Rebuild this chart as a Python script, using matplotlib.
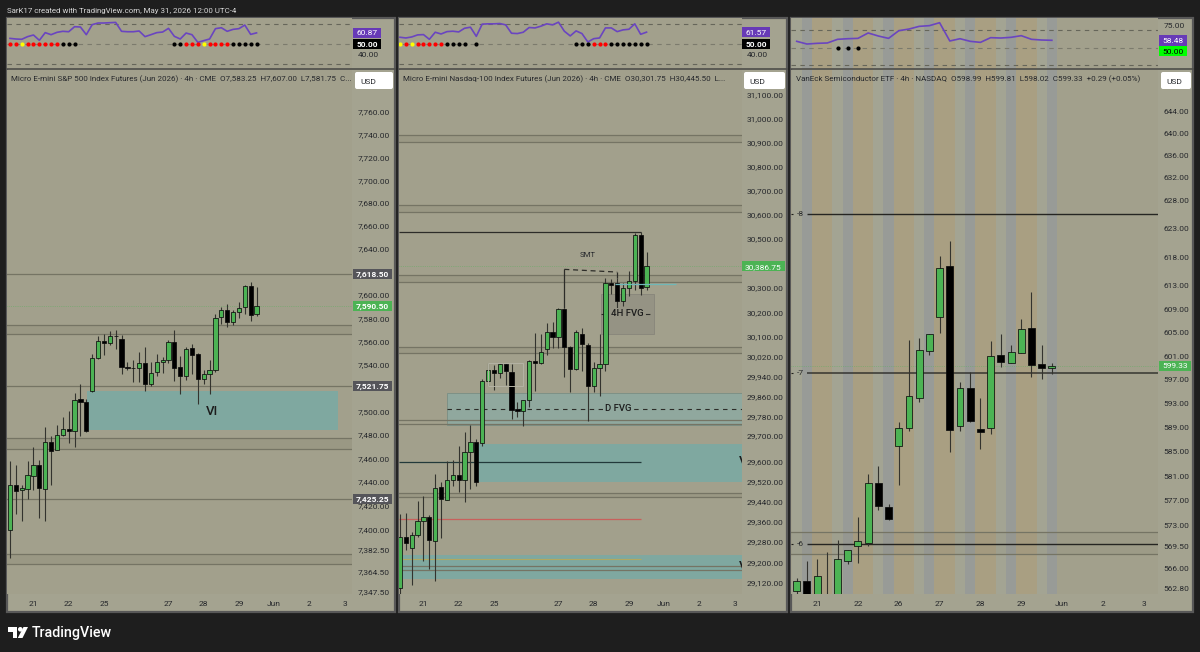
import matplotlib
matplotlib.use("Agg")
from matplotlib import pyplot as plt
from matplotlib.patches import Rectangle, FancyBboxPatch, Polygon, Circle

plt.rcParams['font.family'] = ['Roboto', 'DejaVu Sans']

# S&P micro futures, 4h
es_open = [7399, 7437, 7433, 7434, 7444.7, 7454.4, 7434, 7473.7, 7466.9, 7479.7, 7485.1, 7482.9, 7510.2, 7508, 7517.6,
           7546.1, 7560.4, 7558.9, 7564.9, 7562.4, 7538.4, 7536.7, 7537.3, 7541.3, 7523.3, 7533.3, 7542.4, 7543.6, 7559.8,
           7537.9, 7530.2, 7554.1, 7549.3, 7527.6, 7531.6, 7535.3, 7580.6, 7586.9, 7576.9, 7585.5, 7589.7, 7607.7, 7583.25]
es_high = [7458, 7454, 7437, 7457.5, 7469.5, 7458.6, 7486.3, 7478.6, 7488.6, 7494.8, 7500.2, 7515.6, 7523.6, 7510.8, 7549.3,
           7564.6, 7566.4, 7568.9, 7569.5, 7565.2, 7542.4, 7544.1, 7551, 7555, 7542.1, 7549, 7546.4, 7561.2, 7569.8,
           7547, 7555, 7557.5, 7550.1, 7535, 7544.1, 7583.2, 7589.7, 7592.3, 7586.9, 7594.3, 7609.1, 7611.1, 7607]
es_low = [7376, 7413, 7407, 7425.5, 7433, 7409.6, 7407.3, 7437.3, 7466.9, 7478.6, 7472.9, 7469.2, 7478.6, 7482.3, 7516.5,
          7545, 7548.1, 7557.2, 7553.8, 7531.6, 7535, 7525.3, 7524.8, 7517, 7521.3, 7529.9, 7532.7, 7541.3, 7525.6,
          7515.1, 7526.5, 7532.2, 7506, 7523.1, 7515.1, 7533.3, 7574.9, 7572.4, 7573.8, 7580, 7583.5, 7577.2, 7581.75]
es_close = [7437, 7432.4, 7434.4, 7445.5, 7454.4, 7434.7, 7473.7, 7466.6, 7480, 7484.9, 7483.4, 7509.6, 7507.7, 7483.4, 7545.6,
            7560.1, 7558.9, 7564.6, 7564.4, 7538.4, 7536.7, 7537.3, 7541.3, 7523.3, 7532.5, 7541.9, 7543.6, 7559.8, 7537.3,
            7529.9, 7553.5, 7548.4, 7527.3, 7531.6, 7535, 7580.3, 7586.9, 7576.3, 7585.5, 7589.2, 7608, 7582.6, 7590.5]
es_rsi = [55.5, 54.9, 54.6, 57.2, 58.8, 53.6, 61.1, 59.1, 61.4, 62.4, 62, 66.9, 66.6, 59.1, 68.9, 70.5, 70.5, 70.8, 71.1, 62.4,
          62, 62, 62.7, 57.2, 59.1, 61.1, 61.7, 65.3, 57.5, 54.9, 60.7, 59.1, 51.6, 53.3, 54.9, 65, 65.9, 62.4, 64.3, 65,
          68.5, 59.4, 60.87]
es_dots = list("rryrrrrrrkkk") + [""] * 16 + list("kkrrryrrrrkkkkk")
es_ticks = [7760, 7740, 7720, 7700, 7680, 7660, 7640, 7600, 7580, 7560, 7540, 7500, 7480, 7460, 7440, 7420,
            7400, 7382.5, 7364.5, 7347.5]
es_levels = [7618.5, 7574, 7566, 7521.75, 7477, 7468, 7425.25, 7379, 7371]
es_bands = [(7566, 7574), (7468, 7477), (7371, 7379)]

# Nasdaq micro futures, 4h
nq_open = [29097.5, 29300, 29257.5, 29309, 29363, 29379, 29284, 29495.4, 29446.5, 29526, 29544, 29524.5, 29637, 29675, 29672,
           29922, 29966, 29953, 29990, 29959, 29810, 29802, 29843.6, 30003.5, 29995, 30051, 30120, 30101, 30213.5,
           30057.7, 29971, 30110.6, 30068.6, 29903, 29973.7, 29990, 30318, 30320.6, 30246, 30300, 30328.7, 30515.7, 30301.75]
nq_high = [29392, 29395, 29319.6, 29440, 29462, 29388, 29549.7, 29519, 29600, 29604, 29662, 29716, 29745, 29688.5, 29928,
           29993, 29984.6, 29995, 29995, 29989, 29835.5, 29846, 30006, 30117, 30110.6, 30158, 30160.7, 30219, 30219,
           30063, 30128, 30137.7, 30076.7, 29998, 30112, 30339.6, 30337, 30341, 30318, 30366.7, 30524, 30529, 30445.5]
nq_low = [29075, 29247, 29109.4, 29300, 29203, 29171.6, 29125, 29296, 29444, 29503, 29477, 29437, 29490, 29503, 29660,
          29903, 29887, 29934, 29906, 29768, 29778.6, 29740.6, 29816.5, 29880, 29988.6, 30025, 30056, 30056, 29937,
          29876, 29964, 29961.5, 29762, 29877.5, 29862.6, 29961.5, 30273, 30216, 30225.7, 30266, 30290.8, 30269, 30290.8]
nq_close = [29299.8, 29274.7, 29309, 29363, 29379, 29286.6, 29493, 29450.5, 29526, 29544, 29524.5, 29637, 29675, 29516.6, 29921,
            29966, 29953, 29990, 29960, 29806, 29802, 29843.6, 30002, 29995, 30039, 30120, 30101, 30213.5, 30060.4,
            29971, 30121.4, 30070, 29903, 29973.7, 29990, 30318, 30311, 30246, 30297.6, 30328.7, 30515.7, 30300, 30386.75]
nq_rsi = [56.6, 55.9, 56.9, 58.9, 59.2, 54.6, 61.5, 59.8, 62.1, 62.5, 61.8, 65.4, 66.4, 57.5, 69.4, 69.7, 69.7, 70, 68.7, 60.5,
          60.2, 61.5, 66.1, 65.7, 67.4, 69.7, 68.7, 71.3, 62.5, 57.9, 62.8, 60.2, 52, 55.2, 55.9, 65.7, 65.7, 62.1, 63.8,
          64.4, 69.7, 59.5, 61.57]
nq_dots = list("yryrrrrrkkkk") + [""] + ["k"] + [""] * 16 + list("kkkrrrkkkkkkk")
nq_ticks = [31100, 31000, 30900, 30800, 30700, 30600, 30500, 30400, 30300, 30200, 30100, 30020, 29940, 29860, 29780, 29700,
            29600, 29520, 29440, 29360, 29280, 29200, 29120]
nq_levels = [30930, 30901, 30640, 30609, 30350, 30325, 30059, 30036, 29765, 29749, 29473, 29456, 29183, 29168]
nq_bands = [(30901, 30930), (30609, 30640), (30325, 30350), (30036, 30059), (29456, 29473)]

# SMH, 4h
smh_open = [562.5, 564, 560, 561, 561.7, 567.3, 569.7, 570.2, 579.8, 575.9, 586, 588.9, 594, 601.8, 607.7, 616.4, 589.2, 595.6,
            588.7, 588.9, 601.2, 599.8, 601.5, 605.7, 599.7, 598.99]
smh_high = [564.5, 567.2, 567.5, 568.7, 570.6, 569, 574.4, 581.4, 582.6, 576.5, 590, 603.8, 604, 604.8, 618.2, 620.8, 596.6, 598.3,
            594, 603.5, 604.8, 602.9, 607.4, 611.9, 602.8, 599.81]
smh_low = [562, 560, 559, 557, 561, 566.7, 566.9, 569.7, 575.4, 573.8, 579.6, 588.5, 593.2, 601.2, 605, 585, 588.5, 589.9,
           585.5, 587.9, 599.1, 599.8, 601.5, 597.4, 597.2, 598.02]
smh_close = [564, 561, 564.8, 558, 567.5, 569, 570.5, 579.8, 576.2, 574, 589, 594.2, 602, 604.7, 616.2, 588.6, 595.6, 590.1,
             588.3, 601, 600, 601.7, 605.6, 599.5, 599, 599.33]
smh_rsi = [57.3, 54.2, 55, 55.4, 59.6, 60.3, 60.7, 66.9, 63.4, 60.7, 69.5, 71.4, 74.5, 75.3, 78.7, 57.7, 60.3, 57.3, 56.1, 61.5,
           61.1, 61.9, 63.8, 59.6, 58.8, 58.48]
smh_dots = [""] * 4 + list("kkk") + [""] * 19
smh_sessions = list("lgtt" * 6) + list("lg")
smh_ticks = [644, 640, 636, 632, 628, 623, 618, 613, 609, 605, 601, 597, 593, 589, 585, 581, 577, 573, 569.5, 566, 562.8]
smh_levels = [571.9, 568.4]
smh_fib = [(625.6, "-8"), (598.1, "-7"), (570, "-6")]

day_labels = ["21", "22", "25", "27", "28", "29", "Jun", "2", "3"]
day_ticks_fut = [3.9, 10, 16, 27, 33, 39, 45, 51, 57]
smh_day_labels = ["21", "22", "26", "27", "28", "29", "Jun", "2", "3"]
day_ticks_smh = [2, 6, 10, 14, 18, 22, 26, 30, 34]

es_title = "Micro E-mini S&P 500 Index Futures (Jun 2026) · 4h · CME  O7,583.25  H7,607.00  L7,581.75  C..."
nq_title = "Micro E-mini Nasdaq-100 Index Futures (Jun 2026) · 4h · CME  O30,301.75  H30,445.50  L..."
smh_title = "VanEck Semiconductor ETF · 4h · NASDAQ  O598.99  H599.81  L598.02  C599.33  +0.29 (+0.05%)"

W, H = 1200, 652
BG = "#1e1e1e"
PANE = "#a2a08c"
SCALE = "#a4a390"
GREEN = "#4cb354"
TEAL = "#7fa8a0"
TXT = "#26282c"
LINE = "#75746450"[:7]
FS = 6.0

fig = plt.figure(figsize=(W / 100, H / 100), dpi=100, facecolor=BG)


def px_axes(x0, y0, x1, y1, **kw):
    # axes from pixel box, y counted from the top
    return fig.add_axes([x0 / W, 1 - y1 / H, (x1 - x0) / W, (y1 - y0) / H], **kw)


under = px_axes(0, 0, W, H, zorder=-1)
under.set_xlim(0, W)
under.set_ylim(H, 0)
under.axis("off")
over = px_axes(0, 0, W, H, zorder=5)
over.set_xlim(0, W)
over.set_ylim(H, 0)
over.axis("off")
over.patch.set_alpha(0)


def draw_candles(ax, o, h, l, c, width):
    for i in range(len(o)):
        up = c[i] >= o[i]
        ax.vlines(i, l[i], h[i], color="#33332e", lw=0.8, zorder=3)
        ax.bar(i, abs(c[i] - o[i]), bottom=min(o[i], c[i]), width=width, color=GREEN if up else "black",
               edgecolor="#0c0c0c", lw=0.55, zorder=4)


def setup_main(ax, ticks, ylim, xlim, xticks, xlabels, fmt="{:,.2f}"):
    ax.set_yscale("log")
    ax.set_xlim(*xlim)
    ax.set_ylim(*ylim)
    ax.yaxis.tick_right()
    ax.set_yticks(ticks)
    ax.set_yticklabels([fmt.format(t) for t in ticks], fontsize=FS, color=TXT)
    ax.minorticks_off()
    ax.set_xticks(xticks)
    ax.set_xticklabels(xlabels, fontsize=FS, color=TXT)
    ax.tick_params(length=0, axis="y", pad=4)
    ax.tick_params(length=0, axis="x", pad=5)
    ax.set_facecolor(PANE)
    for s in ax.spines.values():
        s.set_visible(False)


def setup_sub(ax, rsi, dots, xlim, ylim, ticks):
    ax.set_xlim(*xlim)
    ax.set_ylim(*ylim)
    ax.set_facecolor(PANE)
    ax.yaxis.tick_right()
    ax.set_yticks(ticks)
    ax.set_yticklabels(["{:.2f}".format(t) for t in ticks], fontsize=FS, color=TXT)
    ax.set_xticks([])
    ax.tick_params(length=0, axis="y", pad=4)
    for s in ax.spines.values():
        s.set_visible(False)
    ax.axhline(70, color="#66665a", lw=0.8, dashes=(4, 4), zorder=2)
    ax.axhline(50, color="#7c7b6d", lw=0.8, dashes=(4, 4), zorder=2)
    ax.axhline(30, color="#66665a", lw=0.8, dashes=(4, 4), zorder=2)
    ax.plot(range(len(rsi)), rsi, color="#6a45c0", lw=1.2, zorder=3)
    cols = {"r": "#ff0000", "y": "#ffff00", "k": "black"}
    for i, d in enumerate(dots):
        if d:
            ax.scatter(i, 50, s=9, color=cols[d], zorder=4, linewidths=0)


def tag(ax, x0, w, v, text, bg, fg="white", h=10, bold=False):
    # price tag on the scale, sits at the pixel height of the value
    y = H - ax.transData.transform((0, v))[1]
    over.add_patch(Rectangle((x0, y - h / 2), w, h, facecolor=bg, edgecolor="none", zorder=3))
    over.text(x0 + w / 2, y, text, color=fg, fontsize=FS, ha="center", va="center_baseline", zorder=4,
              fontweight="bold" if bold else "normal")


def usd(x0, x1):
    over.add_patch(FancyBboxPatch((x0 + 1, 73), x1 - x0 - 2, 15, boxstyle="round,pad=1,rounding_size=2",
                                  facecolor="white", edgecolor="none", zorder=3))
    over.text(x0 + 13, 81, "USD", fontsize=FS, color=TXT, ha="center", va="center_baseline", zorder=4)


# panel frames and the lighter price scale strips
for x0, x1, sx in [(7, 395, 352), (398.5, 787, 741.5), (791, 1193, 1158)]:
    under.add_patch(Rectangle((x0, 18), x1 - x0, 594, facecolor=SCALE, edgecolor="#585858", lw=1.6))
    over.plot([x0, x1], [69, 69], color="#4e4e4a", lw=1.2, zorder=2)

fig.text(7 / W, 1 - 10.5 / H, "SarK17 created with TradingView.com, May 31, 2026 12:00 UTC-4", color="#d8d8d8", fontsize=5.65,
         va="center")

# --- S&P ---
xl1 = (-0.51, 58.26)
ax1s = px_axes(7, 18, 352, 69)
setup_sub(ax1s, es_rsi, es_dots, xl1, (25.6, 75.4), [40])
ax1 = px_axes(7, 70, 352, 594)
setup_main(ax1, es_ticks, (7345.6, 7797.3), xl1, day_ticks_fut, day_labels)
for a, b in es_bands:
    ax1.axhspan(a, b, color="#9a9884", lw=0, zorder=1)
for v in es_levels:
    ax1.axhline(v, color=LINE, lw=0.9, zorder=1.5)
ax1.add_patch(Rectangle((13.2, 7484), 42.7, 33.6, facecolor=TEAL, edgecolor="none", zorder=2))
ax1.text(34.4, 7500, "VI", fontsize=9.5, color="#1c1c1c", ha="center", va="center", zorder=5, fontweight="medium")
ax1.axhline(7590.5, color=GREEN, lw=0.5, ls=":", alpha=0.7, zorder=2)
draw_candles(ax1, es_open, es_high, es_low, es_close, 0.72)
ax1.text(0.012, 0.9825, es_title, transform=ax1.transAxes, fontsize=5.75, color=TXT, va="center", zorder=6)

# --- Nasdaq ---
xl2 = (-0.17, 58.18)
ax2s = px_axes(399, 18, 741.5, 69)
setup_sub(ax2s, nq_rsi, nq_dots, xl2, (25.6, 75.4), [40])
ax2 = px_axes(399, 70, 741.5, 594)
setup_main(ax2, nq_ticks, (29075, 31202), xl2, day_ticks_fut, day_labels)
for a, b in nq_bands:
    ax2.axhspan(a, b, color="#9a9884", lw=0, zorder=1)
for v in nq_levels:
    ax2.axhline(v, color=LINE, lw=0.9, zorder=2.5)
ax2.add_patch(Rectangle((8, 29743), 51, 130, facecolor="#90a89e", edgecolor="#7a8e84", lw=0.6, zorder=2))
ax2.add_patch(Rectangle((13.35, 29518), 46, 152, facecolor=TEAL, edgecolor="none", zorder=2))
ax2.add_patch(Rectangle((-1, 29133), 60, 94, facecolor=TEAL, edgecolor="none", zorder=2))
ax2.add_patch(Rectangle((34.2, 30113), 9, 160, facecolor="#959384", edgecolor="#87857a", lw=0.6, zorder=2))
ax2.add_patch(Rectangle((15, 29900), 6, 94, facecolor="none", edgecolor="#b4b3a4", lw=0.7, zorder=5))
ax2.hlines(29810, 8, 58.18, color="#2c2c28", lw=0.8, linestyles=(0, (4, 4)), zorder=2.8)
ax2.hlines(30194.6, 34.2, 43.2, color="#2c2c28", lw=0.8, linestyles=(0, (4, 4)), zorder=2.8)
ax2.hlines(30529.5, -0.17, 41, color="#2c2c28", lw=0.9, zorder=2.8)
ax2.hlines(29597, -0.17, 41, color="#22393a", lw=0.9, zorder=2.8)
ax2.hlines(29371, -0.17, 41, color="#c8605c", lw=0.9, zorder=2.8)
ax2.hlines(29212.5, -0.17, 41, color="#b0a860", lw=0.8, zorder=2.8)
ax2.hlines(30317, 36.6, 47.1, color="#6fb8b8", lw=0.9, zorder=5)
# SMT marker between the two highs
ax2.vlines(28, 30219, 30375, color="#2c2c28", lw=0.9, zorder=2.8)
ax2.vlines(37, 30341, 30364, color="#2c2c28", lw=0.9, zorder=2.8)
ax2.plot([28, 37], [30375, 30364], color="#2c2c28", lw=0.9, dashes=(4, 3), zorder=2.8)
ax2.text(32, 30434, "SMT", fontsize=5.6, color=TXT, ha="center", va="center", zorder=6)
ax2.text(38.8, 30194.6, "4H FVG", fontsize=6.8, color="#1c1c1c", ha="center", va="center", zorder=6, fontweight="medium",
         bbox=dict(facecolor="#959384", edgecolor="none", pad=0.8))
ax2.text(37.2, 29810, "D FVG", fontsize=6.8, color="#1c1c1c", ha="center", va="center", zorder=6, fontweight="medium",
         bbox=dict(facecolor="#90a89e", edgecolor="none", pad=1.2))
ax2.text(57.7, 29597, "V", fontsize=9.5, color="#1c1c1c", ha="left", va="center", zorder=6, fontweight="medium", clip_on=True)
ax2.text(57.7, 29183, "V", fontsize=9.5, color="#1c1c1c", ha="left", va="center", zorder=6, fontweight="medium", clip_on=True)
ax2.axhline(30386.75, color=GREEN, lw=0.5, ls=":", alpha=0.7, zorder=2)
draw_candles(ax2, nq_open, nq_high, nq_low, nq_close, 0.72)
ax2.text(0.012, 0.9825, nq_title, transform=ax2.transAxes, fontsize=5.75, color=TXT, va="center", zorder=6)

# --- SMH ---
xl3 = (-0.56, 35.4)
stripe = {"l": "#a3a493", "g": "#989b97", "t": "#a99f82"}
ax3s = px_axes(791, 18, 1158, 69)
setup_sub(ax3s, smh_rsi, smh_dots, xl3, (25.5, 84.1), [75])
ax3 = px_axes(791, 70, 1158, 594)
setup_main(ax3, smh_ticks, (562.0, 651.5), xl3, day_ticks_smh, smh_day_labels)
for a in (ax3, ax3s):
    for i, s in enumerate(smh_sessions):
        a.axvspan(i - 0.5, i + 0.5, color=stripe[s], lw=0, zorder=0.5)
ax3.axhspan(smh_levels[1], smh_levels[0], color="#807c6a", alpha=0.12, lw=0, zorder=1)
for v in smh_levels:
    ax3.axhline(v, color=LINE, lw=0.9, zorder=1.5)
for v, name in smh_fib:
    ax3.hlines(v, 1, 35.4, color="#1f1f1c", lw=1.0 if name != "-7" else 1.3, alpha=0.95 if name != "-7" else 0.7, zorder=2)
    ax3.hlines(v, -0.56, -0.38, color="#1f1f1c", lw=0.8, zorder=2)
    ax3.text(0.33, v, name, fontsize=FS, color=TXT, ha="center", va="center", zorder=6)
ax3.axhline(599.33, color=GREEN, lw=0.5, ls=":", alpha=0.7, zorder=2)
draw_candles(ax3, smh_open, smh_high, smh_low, smh_close, 0.68)
ax3.text(0.0125, 0.9825, smh_title, transform=ax3.transAxes, fontsize=5.75, color=TXT, va="center", zorder=6)

# scale tags
PURPLE = "#673ab7"
tag(ax1s, 353, 28, 60.87, "60.87", PURPLE)
tag(ax1s, 353, 28, 50, "50.00", "black", bold=True)
for v, t in [(7618.5, "7,618.50"), (7521.75, "7,521.75"), (7425.25, "7,425.25")]:
    tag(ax1, 353, 39, v, t, "#55555a", bold=True)
tag(ax1, 353, 39, 7590.5, "7,590.50", GREEN, bold=True)
tag(ax2s, 742, 28, 61.57, "61.57", PURPLE)
tag(ax2s, 742, 28, 50, "50.00", "black", bold=True)
tag(ax2, 742, 43, 30386.75, "30,386.75", GREEN)
tag(ax3s, 1159, 28, 58.48, "58.48", PURPLE, h=10.5)
tag(ax3s, 1159, 28, 46, "50.00", "#00ff00", fg="black", h=10.5)
tag(ax3, 1159, 32, 599.33, "599.33", GREEN)
usd(355, 393)
usd(744, 785)
usd(1161, 1191)

# TradingView mark in the footer
over.add_patch(Polygon([(8, 627), (17, 627), (17, 638), (12.5, 638), (12.5, 631.5), (8, 631.5)], facecolor="white", edgecolor="none"))
over.add_patch(Circle((20.3, 629.3), 2.3, facecolor="white", edgecolor="none"))
over.add_patch(Polygon([(23.5, 627), (28, 627), (22.5, 638), (17.8, 638)], facecolor="white", edgecolor="none"))
over.text(31.5, 632.5, "TradingView", fontsize=10.3, color="white", fontweight="medium", ha="left", va="center")

fig.savefig("out.png", dpi=100, facecolor=BG)
